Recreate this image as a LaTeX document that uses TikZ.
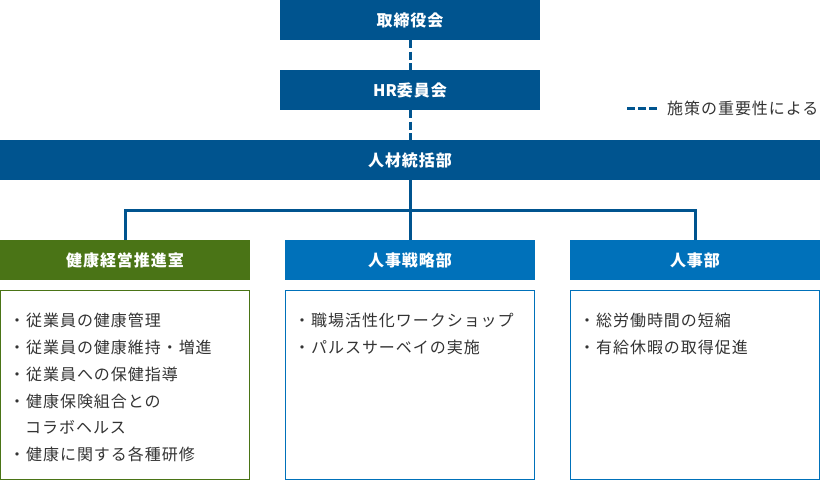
\documentclass[tikz,border=0pt]{standalone}
\usepackage{fontspec}
\setmainfont{Noto Sans CJK JP}[LetterSpace=6]
\newfontfamily\latinfont{Noto Sans CJK JP}
\definecolor{dblue}{HTML}{00548F}
\definecolor{mblue}{HTML}{0071BA}
\definecolor{hgreen}{HTML}{4A7416}
\definecolor{txt}{HTML}{333333}
\tikzset{
  headbox/.style={fill=#1, draw=none, text=white, minimum height=40pt, inner sep=0pt,
    font=\fontsize{16}{18}\selectfont\bfseries},
  listbox/.style={draw=#1, line width=1pt, minimum width=249pt, minimum height=189pt, inner sep=0pt},
  listtext/.style={text=txt, align=left, inner sep=0pt, anchor=north west,
    font=\fontsize{16}{26.8}\selectfont},
  conn/.style={draw=dblue, line width=3pt},
  dashline/.style={draw=dblue, line width=3pt, dash pattern=on 8pt off 3.5pt}
}
\begin{document}
\begin{tikzpicture}[x=1pt,y=-1pt]
\useasboundingbox (0,0) rectangle (820,480);
% header boxes
\node[headbox=dblue, minimum width=260pt] (board) at (410,20) {取締役会};
\node[headbox=dblue, minimum width=260pt] (hr) at (410,90) {{\latinfont\bfseries HR}委員会};
\node[headbox=dblue, minimum width=820pt] (hq) at (410,160) {人材統括部};
\node[headbox=hgreen, minimum width=250pt] (kenko) at (125,260) {健康経営推進室};
\node[headbox=mblue, minimum width=250pt] (senryaku) at (410,260) {人事戦略部};
\node[headbox=mblue, minimum width=250pt] (jinji) at (695,260) {人事部};
% list boxes
\node[listbox=hgreen] (box1) at (125,385) {};
\node[listbox=mblue] (box2) at (410,385) {};
\node[listbox=mblue] (box3) at (695,385) {};
\node[listtext] (list1) at ([shift={(9,23)}]box1.north west) {・従業員の健康管理\\・従業員の健康維持・増進\\・従業員への保健指導\\・健康保険組合との\\\phantom{・}コラボヘルス\\・健康に関する各種研修};
\node[listtext] (list2) at ([shift={(9,23)}]box2.north west) {・職場活性化ワークショップ\\・パルスサーベイの実施};
\node[listtext] (list3) at ([shift={(9,23)}]box3.north west) {・総労働時間の短縮\\・有給休暇の取得促進};
% connectors
\draw[dashline] (board.south) -- (hr.north);
\draw[dashline] (hr.south) -- (hq.north);
\coordinate (bar) at (410,210);
\draw[conn] (hq.south) -- (senryaku.north);
\draw[conn] (kenko.north) -- (kenko.north |- bar) -- (jinji.north |- bar) -- (jinji.north);
% legend
\coordinate (lg1) at (627,108);
\coordinate (lg2) at (657,108);
\draw[dashline, dash pattern=on 8pt off 3pt] (lg1) -- (lg2);
\node[text=txt, anchor=west, inner sep=0pt, font=\fontsize{16}{18}\selectfont] (legend) at (667,108) {施策の重要性による};
\end{tikzpicture}
\end{document}
